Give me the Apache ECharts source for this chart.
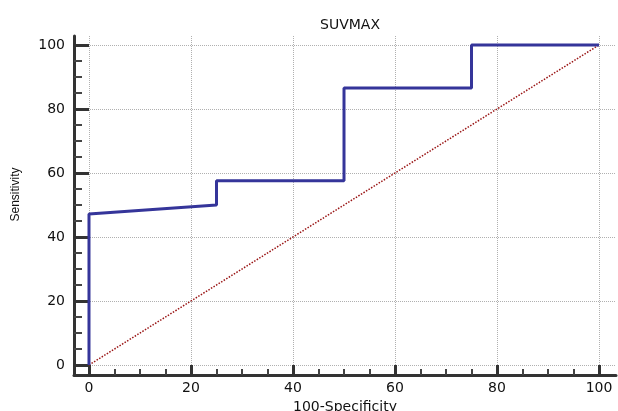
<!DOCTYPE html>
<html>
<head>
<meta charset="utf-8">
<script src="https://cdn.jsdelivr.net/npm/echarts@6/dist/echarts.min.js"></script>
<style>
html,body{margin:0;padding:0;background:#fff;}
#main{width:618px;height:411px;}
</style>
</head>
<body>
<div id="main"></div>
<script>
// ROC curve points (100-Specificity, Sensitivity)
var rocX = [0, 0, 25, 25, 50, 50, 75, 75, 100];
var rocY = [0, 47.2, 50, 57.6, 57.6, 86.6, 86.6, 100, 100];
var refX = [0, 100];
var refY = [0, 100];
var majorTicks = [0, 20, 40, 60, 80, 100];
var minorTicks = [5, 10, 15, 25, 30, 35, 45, 50, 55, 65, 70, 75, 85, 90, 95];

var myChart = echarts.init(document.getElementById('main'));

function pairs(xs, ys){
    var out = [];
    for (var i = 0; i < xs.length; i++) out.push([xs[i], ys[i]]);
    return out;
}

var axisColor = '#333';
var font = 'DejaVu Sans';

var option = {
    animation: false,
    title: {
        text: 'SUVMAX',
        left: 345,
        top: 13,
        textAlign: 'center',
        textStyle: {fontFamily: font, fontSize: 14, fontWeight: 'normal', color: '#111'}
    },
    grid: {left: 74, right: 2, top: 36, bottom: 36, outerBoundsMode: 'none', containLabel: false},
    xAxis: [
        {
            type: 'value', position: 'bottom',
            min: -2.94, max: 103.33,
            name: '100-Specificity', nameLocation: 'middle', nameGap: 22,
            nameTextStyle: {fontFamily: font, fontSize: 14, color: '#111'},
            axisLine: {show: true, onZero: false, lineStyle: {color: axisColor, width: 3}},
            axisTick: {show: true, inside: true, length: 10, customValues: majorTicks,
                lineStyle: {color: axisColor, width: 3}},
            axisLabel: {customValues: majorTicks, margin: 6,
                fontFamily: font, fontSize: 14, color: '#111'},
            splitLine: {show: true, lineStyle: {color: '#b0b0b0', type: 'dotted', width: 1}}
        },
        {
            type: 'value', position: 'bottom',
            min: -2.94, max: 103.33,
            axisLine: {show: false, onZero: false},
            axisTick: {show: true, inside: true, length: 6, customValues: minorTicks,
                lineStyle: {color: '#444', width: 2}},
            axisLabel: {show: false},
            splitLine: {show: false}
        }
    ],
    yAxis: [
        {
            type: 'value', position: 'left',
            min: -3.125, max: 102.8125,
            name: 'Sensitivity', nameLocation: 'middle', nameGap: 52, nameRotate: 90,
            nameTextStyle: {fontFamily: 'Liberation Sans', fontSize: 12, color: '#111',
                padding: [0, 0, 0, 22]},
            axisLine: {show: true, onZero: false, lineStyle: {color: axisColor, width: 3}},
            axisTick: {show: true, inside: true, length: 15, customValues: majorTicks,
                lineStyle: {color: axisColor, width: 3}},
            axisLabel: {customValues: majorTicks, margin: 9,
                fontFamily: font, fontSize: 14, color: '#111'},
            splitLine: {show: true, lineStyle: {color: '#b0b0b0', type: 'dotted', width: 1}}
        },
        {
            type: 'value', position: 'left',
            min: -3.125, max: 102.8125,
            axisLine: {show: false, onZero: false},
            axisTick: {show: true, inside: true, length: 8, customValues: minorTicks,
                lineStyle: {color: '#444', width: 2}},
            axisLabel: {show: false},
            splitLine: {show: false}
        }
    ],
    series: [
        {
            name: 'Reference',
            type: 'line',
            xAxisIndex: 0, yAxisIndex: 0,
            symbol: 'none',
            lineStyle: {color: '#9a1515', width: 1.5, type: 'dotted'},
            data: pairs(refX, refY)
        },
        {
            name: 'SUVMAX',
            type: 'line',
            xAxisIndex: 0, yAxisIndex: 0,
            symbol: 'none',
            lineStyle: {color: '#35359a', width: 3},
            data: pairs(rocX, rocY)
        }
    ]
};
myChart.setOption(option);
</script>
</body>
</html>
